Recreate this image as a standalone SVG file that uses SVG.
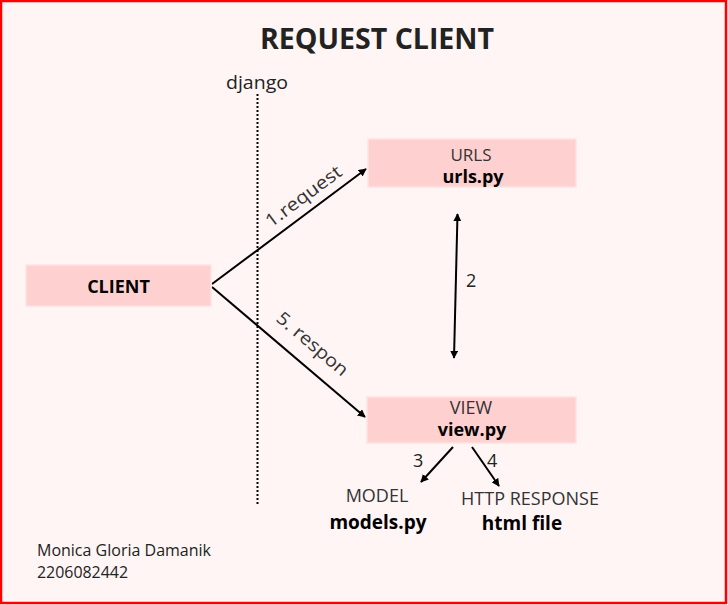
<svg xmlns="http://www.w3.org/2000/svg" width="728" height="605" viewBox="0 0 728 605">
<defs>
<style>
text{font-family:"Open Sans","Noto Sans",sans-serif;fill:#222}
.box{fill:#ffd0d0;stroke:#ffe2e2;stroke-width:1.5}
.lt{font-size:18px;fill:#333;text-anchor:middle}
.bd{font-size:18px;font-weight:bold;fill:#000;text-anchor:middle}
.lbl{font-size:18px;fill:#333}
.con{stroke:#000;stroke-width:2;fill:none}
</style>
<marker id="ah" viewBox="0 0 10 10" refX="9" refY="5" markerWidth="4" markerHeight="4" orient="auto-start-reverse" markerUnits="strokeWidth">
<path d="M0,0 L10,5 L0,10 z" fill="#000"/>
</marker>
</defs>
<rect x="1" y="1" width="725" height="602" fill="#fff5f5" stroke="#ff0000" stroke-width="2.5"/>
<text x="377" y="49" font-size="28" font-weight="bold" fill="#000" text-anchor="middle" textLength="234" lengthAdjust="spacingAndGlyphs">REQUEST CLIENT</text>
<text x="257" y="89" font-size="19" fill="#222" text-anchor="middle" textLength="62" lengthAdjust="spacingAndGlyphs">django</text>
<line x1="257.5" y1="94" x2="257.5" y2="505" stroke="#000" stroke-width="2" stroke-dasharray="2,2"/>
<g id="connectors">
<line class="con" x1="212" y1="284" x2="366" y2="169" marker-end="url(#ah)"/>
<line class="con" x1="212" y1="287" x2="365" y2="417" marker-end="url(#ah)"/>
<line class="con" x1="457.5" y1="214" x2="454" y2="358" marker-start="url(#ah)" marker-end="url(#ah)"/>
<line class="con" x1="453" y1="447" x2="421" y2="482" marker-end="url(#ah)"/>
<line class="con" x1="472" y1="447" x2="499" y2="486" marker-end="url(#ah)"/>
<text class="lbl" transform="translate(271,228) rotate(-36.6)" textLength="90" lengthAdjust="spacingAndGlyphs">1.request</text>
<text class="lbl" transform="translate(275,320) rotate(40.4)" textLength="88" lengthAdjust="spacingAndGlyphs">5. respon</text>
<text x="466" y="287" font-size="18" fill="#333">2</text>
<text x="413" y="467" font-size="18" fill="#333">3</text>
<text x="487" y="467" font-size="18" fill="#333">4</text>
</g>
<g id="client">
<rect class="box" x="26" y="265" width="185" height="41"/>
<text class="bd" x="118.5" y="292.5">CLIENT</text>
</g>
<g id="urls">
<rect class="box" x="368" y="139" width="208" height="48"/>
<text class="lt" x="471" y="161" style="font-size:17px">URLS</text>
<text class="bd" x="473" y="183">urls.py</text>
</g>
<g id="view">
<rect class="box" x="367" y="397" width="209" height="46"/>
<text class="lt" x="471" y="414">VIEW</text>
<text class="bd" x="472" y="436">view.py</text>
</g>
<g id="model">
<text class="lt" x="377" y="502" font-size="17">MODEL</text>
<text class="bd" x="378" y="529" style="font-size:19px">models.py</text>
</g>
<g id="http">
<text class="lt" x="530" y="505" font-size="17">HTTP RESPONSE</text>
<text class="bd" x="522" y="530" style="font-size:19px">html file</text>
</g>
<text x="37" y="556" font-size="16" fill="#333" textLength="174" lengthAdjust="spacingAndGlyphs">Monica Gloria Damanik</text>
<text x="37" y="578" font-size="16" fill="#333" textLength="91" lengthAdjust="spacingAndGlyphs">2206082442</text>
</svg>
